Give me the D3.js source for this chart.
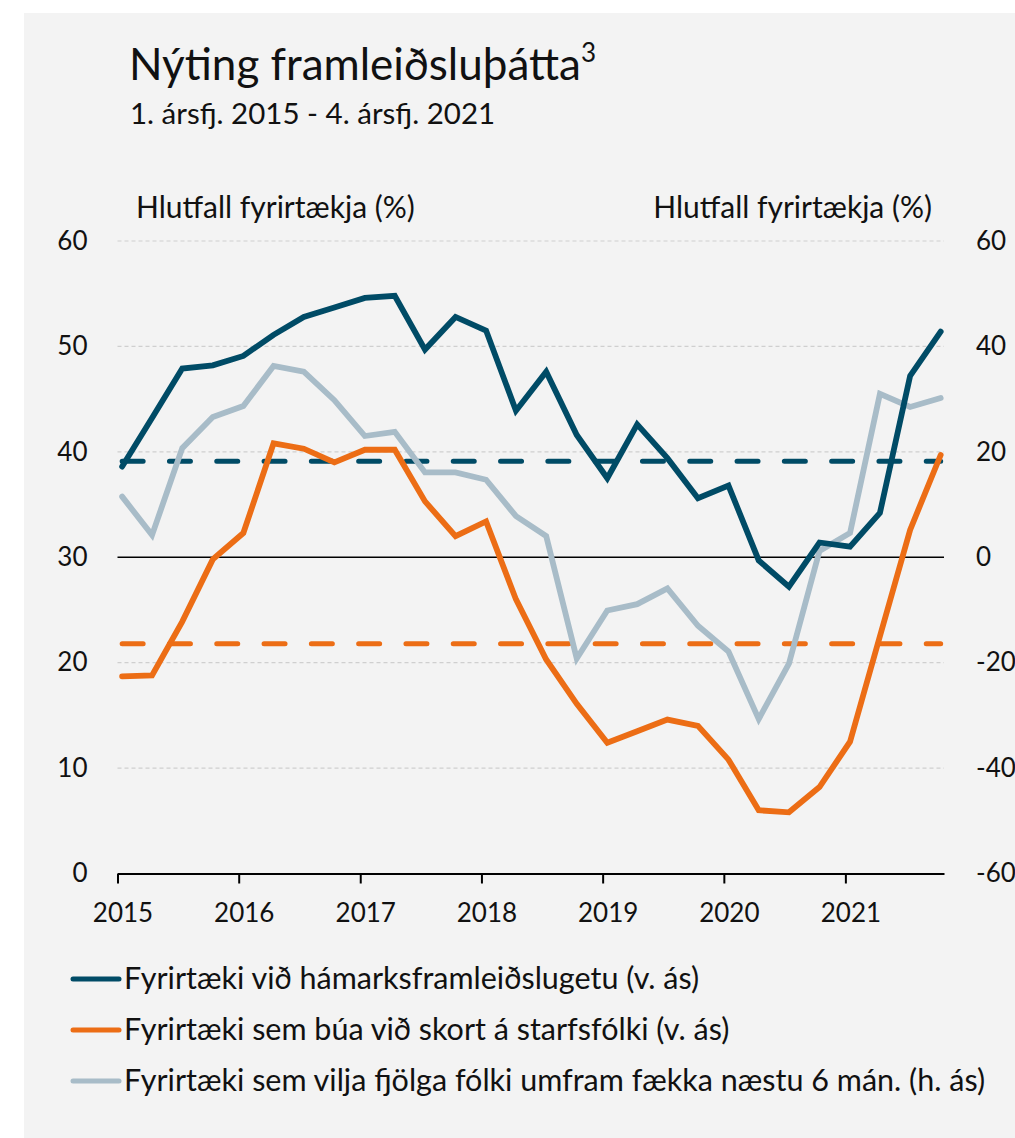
<!DOCTYPE html>
<html>
<head>
<meta charset="utf-8">
<script src="https://cdn.jsdelivr.net/npm/d3@7"></script>
<style>
  body { margin: 0; background: #fff; }
  text { font-family: Lato, "Open Sans", sans-serif; fill: #111; }
</style>
</head>
<body>
<div id="chart"></div>
<script>
// quarters, dated mid-month of the first month in each quarter
const quarters = [
    '2015-01-15', '2015-04-15', '2015-07-15', '2015-10-15',
    '2016-01-15', '2016-04-15', '2016-07-15', '2016-10-15',
    '2017-01-15', '2017-04-15', '2017-07-15', '2017-10-15',
    '2018-01-15', '2018-04-15', '2018-07-15', '2018-10-15',
    '2019-01-15', '2019-04-15', '2019-07-15', '2019-10-15',
    '2020-01-15', '2020-04-15', '2020-07-15', '2020-10-15',
    '2021-01-15', '2021-04-15', '2021-07-15', '2021-10-15'
];

// left axis (%)
const maxCapacity = [38.6, 43.2, 47.9, 48.2, 49.1, 51.1, 52.8, 53.7, 54.6, 54.8,
    49.7, 52.8, 51.5, 43.9, 47.6, 41.6, 37.5, 42.6, 39.4, 35.6,
    36.8, 29.7, 27.2, 31.4, 31.0, 34.2, 47.2, 51.4];
const labourShortage = [18.7, 18.8, 23.9, 29.8, 32.3, 40.8, 40.3, 39.0, 40.2, 40.2,
    35.3, 32.0, 33.4, 26.0, 20.3, 16.1, 12.4, 13.5, 14.6, 14.0,
    10.8, 6.0, 5.8, 8.2, 12.5, 22.5, 32.6, 39.7];
// right axis (net balance)
const hiringBalance = [11.5, 4.2, 20.7, 26.6, 28.7, 36.3, 35.2, 29.8, 23.0, 23.8,
    16.1, 16.1, 14.7, 7.8, 4.0, -19.2, -10.1, -8.9, -5.9, -13.0,
    -17.9, -30.7, -20.2, 1.2, 4.6, 31.0, 28.5, 30.2];

// period averages (dashed)
const avgMaxCapacity = 39.1;
const avgLabourShortage = 21.8;

const leftTicks = [0, 10, 20, 30, 40, 50, 60];
const rightTicks = [-60, -40, -20, 0, 20, 40, 60];

const seriesNames = [
    'Fyrirtæki við hámarksframleiðslugetu (v. ás)',
    'Fyrirtæki sem búa við skort á starfsfólki (v. ás)',
    'Fyrirtæki sem vilja fjölga fólki umfram fækka næstu 6 mán. (h. ás)'
];
const colors = ['#004b66', '#ec6d15', '#a8bcc8'];

const width = 1015;
const height = 1138;

const svg = d3.select('#chart')
    .append('svg')
    .attr('width', width)
    .attr('height', height);

// grey panel
svg.append('rect')
    .attr('x', 24)
    .attr('y', 13)
    .attr('width', width - 24)
    .attr('height', height - 13)
    .attr('fill', '#f3f3f3');

const parseDate = d3.timeParse('%Y-%m-%d');
const dates = quarters.map(parseDate);

const x = d3.scaleTime()
    .domain([new Date(2015, 0, 1), new Date(2021, 9, 25)])
    .range([117.5, 944]);

const yLeft = d3.scaleLinear().domain([0, 60]).range([873.5, 241]);
const yRight = d3.scaleLinear().domain([-60, 60]).range([873.5, 241]);

const [x0, x1] = x.range();

// gridlines
svg.append('g')
    .selectAll('line')
    .data(leftTicks.filter(d => d !== 0))
    .enter()
    .append('line')
    .attr('x1', x0)
    .attr('x2', x1)
    .attr('y1', d => yLeft(d))
    .attr('y2', d => yLeft(d))
    .attr('stroke', d => d === 30 ? '#000' : '#cfcfcf')
    .attr('stroke-width', d => d === 30 ? 1.6 : 1.2)
    .attr('stroke-dasharray', d => d === 30 ? null : '4,3');

// left axis labels
const leftAxis = svg.append('g')
    .attr('transform', `translate(${x0},0)`)
    .call(d3.axisLeft(yLeft).tickValues(leftTicks).tickSize(0).tickPadding(30));
leftAxis.select('.domain').remove();
leftAxis.selectAll('text').style('font-size', '26px').attr('fill', '#111');

// right axis labels (plain hyphen for negatives, as in the original)
const rightAxis = svg.append('g')
    .attr('transform', `translate(${x1},0)`)
    .call(d3.axisRight(yRight).tickValues(rightTicks).tickFormat(d => String(d))
        .tickSize(0).tickPadding(32));
rightAxis.select('.domain').remove();
rightAxis.selectAll('text').style('font-size', '26px').attr('fill', '#111');

// x axis
const xAxis = svg.append('g')
    .attr('transform', `translate(0,${yLeft(0)})`)
    .call(d3.axisBottom(x)
        .ticks(d3.timeYear.every(1))
        .tickFormat(d3.timeFormat('%Y'))
        .tickSize(10)
        .tickSizeOuter(0));
xAxis.select('.domain').attr('stroke', '#000').attr('stroke-width', 2);
xAxis.selectAll('.tick line').attr('stroke', '#000').attr('stroke-width', 2);
xAxis.selectAll('text')
    .style('font-size', '26px')
    .attr('fill', '#111')
    .attr('dx', 5)
    .attr('dy', '1.35em');

// average lines
const avgLines = [
    { value: avgMaxCapacity, color: colors[0] },
    { value: avgLabourShortage, color: colors[1] }
];
svg.append('g')
    .selectAll('line')
    .data(avgLines)
    .enter()
    .append('line')
    .attr('x1', x(dates[0]))
    .attr('x2', x(dates[dates.length - 1]))
    .attr('y1', d => yLeft(d.value))
    .attr('y2', d => yLeft(d.value))
    .attr('stroke', d => d.color)
    .attr('stroke-width', 5)
    .attr('stroke-linecap', 'round')
    .attr('stroke-dasharray', '21,26.3');

// series lines
const series = [
    { values: hiringBalance, scale: yRight, color: colors[2] },
    { values: labourShortage, scale: yLeft, color: colors[1] },
    { values: maxCapacity, scale: yLeft, color: colors[0] }
];

series.forEach(function(s) {
    const line = d3.line()
        .x((d, i) => x(dates[i]))
        .y(d => s.scale(d));
    svg.append('path')
        .datum(s.values)
        .attr('d', line)
        .attr('fill', 'none')
        .attr('stroke', s.color)
        .attr('stroke-width', 5.8)
        .attr('stroke-linejoin', 'miter')
        .attr('stroke-linecap', 'round');
});

// titles
const title = svg.append('text')
    .attr('x', 129)
    .attr('y', 80)
    .style('font-size', '44px')
    .text('Nýting framleiðsluþátta');
title.append('tspan')
    .attr('dy', -18)
    .style('font-size', '26px')
    .text('3');

svg.append('text')
    .attr('x', 130)
    .attr('y', 124)
    .style('font-size', '29.5px')
    .text('1. ársfj. 2015 - 4. ársfj. 2021');

svg.append('text')
    .attr('x', 136)
    .attr('y', 218)
    .style('font-size', '30px')
    .text('Hlutfall fyrirtækja (%)');

svg.append('text')
    .attr('x', 932)
    .attr('y', 218)
    .attr('text-anchor', 'end')
    .style('font-size', '30px')
    .text('Hlutfall fyrirtækja (%)');

// legend
const legend = svg.append('g')
    .selectAll('g')
    .data(seriesNames)
    .enter()
    .append('g')
    .attr('transform', (d, i) => `translate(0,${979 + i * 51})`);

legend.append('line')
    .attr('x1', 73)
    .attr('x2', 119)
    .attr('stroke', (d, i) => colors[i])
    .attr('stroke-width', 5)
    .attr('stroke-linecap', 'round');

legend.append('text')
    .attr('x', 124)
    .attr('y', 10)
    .style('font-size', '30.5px')
    .text(d => d);
</script>
</body>
</html>
